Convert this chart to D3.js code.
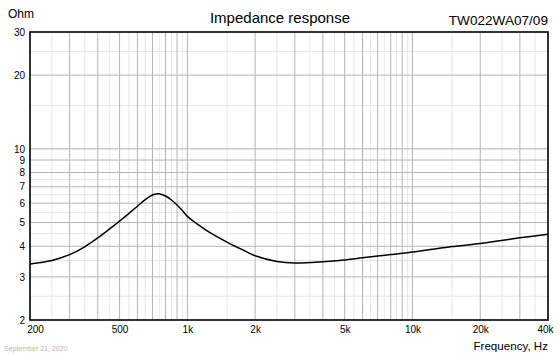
<!DOCTYPE html>
<html>
<head>
<meta charset="utf-8">
<script src="https://cdn.jsdelivr.net/npm/d3@7"></script>
<style>
  body { margin: 0; background: #fff; }
  text { font-family: "Liberation Sans", Arial, sans-serif; }
</style>
</head>
<body>
<div id="chart"></div>
<script>
// impedance curve
const freqs = [200, 250, 300, 350, 400, 450, 500, 550, 600, 650, 700, 750, 800, 850, 900, 950, 1000, 1100, 1200, 1500, 1800, 2000, 2500, 3000, 4000, 5000, 6000, 7000, 8000, 10000, 12000, 15000, 20000, 30000, 40000];
const ohms = [3.39, 3.5, 3.7, 3.98, 4.33, 4.7, 5.07, 5.45, 5.83, 6.2, 6.48, 6.56, 6.42, 6.18, 5.9, 5.6, 5.3, 4.95, 4.68, 4.16, 3.83, 3.66, 3.47, 3.42, 3.46, 3.52, 3.59, 3.65, 3.7, 3.79, 3.88, 3.99, 4.11, 4.33, 4.48];

const xTicks = [200, 500, 1000, 2000, 5000, 10000, 20000, 40000];
const xTickLabels = ["200", "500", "1k", "2k", "5k", "10k", "20k", "40k"];
const yTicks = [2, 3, 4, 5, 6, 7, 8, 9, 10, 20, 30];

const xMajor = [300, 400, 500, 600, 700, 800, 900, 1000, 2000, 3000, 4000, 5000, 6000, 7000, 8000, 9000, 10000, 20000, 30000];
const xMinor = [250, 350, 450, 550, 650, 750, 850, 950, 1500, 2500, 3500, 4500, 5500, 6500, 7500, 8500, 9500, 15000, 25000, 35000];
const yMajor = [3, 4, 5, 6, 7, 8, 9, 10, 20];
const yMinor = [2.5, 3.5, 4.5, 5.5, 6.5, 7.5, 15, 25];

let width = 560,
  height = 354;
let mLeft = 30, mRight = 548, mTop = 32, mBottom = 320;

let svg = d3.select("#chart")
  .append("svg")
  .attr("width", width)
  .attr("height", height);

let x = d3.scaleLog()
  .domain([200, 40000])
  .range([mLeft, mRight]);

let y = d3.scaleLog()
  .domain([2, 30])
  .range([mBottom, mTop]);

// grid
let grid = svg.append("g");
grid.selectAll(".xminor")
  .data(xMinor)
  .join("line")
  .attr("class", "xminor")
  .attr("x1", d => x(d)).attr("x2", d => x(d))
  .attr("y1", mTop).attr("y2", mBottom)
  .attr("stroke", "#e6e6e6");
grid.selectAll(".yminor")
  .data(yMinor)
  .join("line")
  .attr("class", "yminor")
  .attr("x1", mLeft).attr("x2", mRight)
  .attr("y1", d => y(d)).attr("y2", d => y(d))
  .attr("stroke", "#e6e6e6");
grid.selectAll(".xmajor")
  .data(xMajor)
  .join("line")
  .attr("class", "xmajor")
  .attr("x1", d => x(d)).attr("x2", d => x(d))
  .attr("y1", mTop).attr("y2", mBottom)
  .attr("stroke", "#b4b4b4");
grid.selectAll(".ymajor")
  .data(yMajor)
  .join("line")
  .attr("class", "ymajor")
  .attr("x1", mLeft).attr("x2", mRight)
  .attr("y1", d => y(d)).attr("y2", d => y(d))
  .attr("stroke", "#b4b4b4");

// frame
svg.append("rect")
  .attr("x", mLeft)
  .attr("y", mTop)
  .attr("width", mRight - mLeft)
  .attr("height", mBottom - mTop)
  .attr("fill", "none")
  .attr("stroke", "#000")
  .attr("stroke-width", 1.6);

// axes labels
let xAxis = d3.axisBottom(x)
  .tickValues(xTicks)
  .tickFormat((d, i) => xTickLabels[i])
  .tickSize(0)
  .tickPadding(6);

let gx = svg.append("g")
  .attr("transform", `translate(0,${mBottom})`)
  .call(xAxis);
gx.select(".domain").remove();
gx.selectAll("text")
  .attr("font-size", 10)
  .attr("fill", "#000")
  .attr("dx", (d, i) => i == 0 ? 5 : (i == xTicks.length - 1 ? -3 : 0));

let yAxis = d3.axisLeft(y)
  .tickValues(yTicks)
  .tickFormat(d3.format("d"))
  .tickSize(0)
  .tickPadding(5);

let gy = svg.append("g")
  .attr("transform", `translate(${mLeft},0)`)
  .call(yAxis);
gy.select(".domain").remove();
gy.selectAll("text")
  .attr("font-size", 10)
  .attr("fill", "#000");

// curve
let pts = freqs.map((f, i) => [x(f), y(ohms[i])]);
svg.append("path")
  .attr("d", d3.line().curve(d3.curveCatmullRom.alpha(0.5))(pts))
  .attr("fill", "none")
  .attr("stroke", "#000")
  .attr("stroke-width", 1.5);

// texts
svg.append("text")
  .attr("x", 8).attr("y", 18)
  .attr("font-size", 12)
  .text("Ohm");

svg.append("text")
  .attr("x", 280).attr("y", 23)
  .attr("text-anchor", "middle")
  .attr("font-size", 15)
  .text("Impedance response");

svg.append("text")
  .attr("x", mRight).attr("y", 25)
  .attr("text-anchor", "end")
  .attr("font-size", 13.6)
  .text("TW022WA07/09");

svg.append("text")
  .attr("x", mRight).attr("y", 350)
  .attr("text-anchor", "end")
  .attr("font-size", 11.6)
  .text("Frequency, Hz");

svg.append("text")
  .attr("x", 4).attr("y", 351)
  .attr("font-size", 7)
  .attr("fill", "#b8b8b8")
  .text("September 21, 2020");
</script>
</body>
</html>
